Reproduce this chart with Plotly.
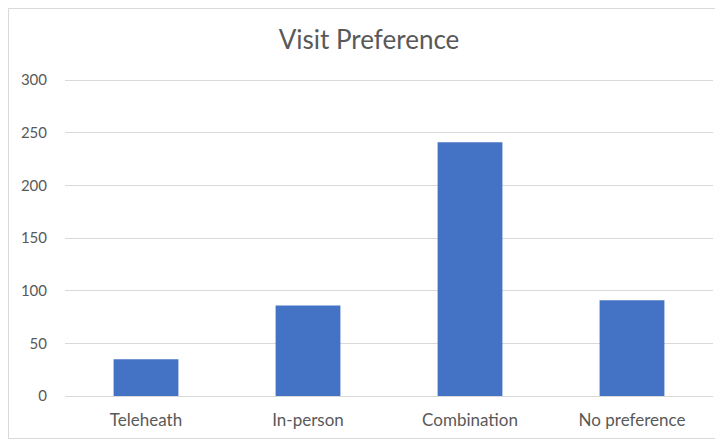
import plotly.graph_objects as go

categories = ["Teleheath", "In-person", "Combination", "No preference"]
values = [35, 86, 241, 91]
y_ticks = [0, 50, 100, 150, 200, 250, 300]

FONT = "Lato, 'Open Sans', sans-serif"
GRAY = "#595959"

W, H = 715, 432
L, R, T, B = 57, 10, 71, 44
PW, PH = W - L - R, H - T - B

fig = go.Figure()
fig.add_trace(go.Bar(
    x=categories,
    y=values,
    marker=dict(color="#4472C4", line=dict(width=0)),
    width=0.4,
    hoverinfo="x+y",
))

fig.update_layout(
    width=W,
    height=H,
    margin=dict(l=L, r=R, t=T, b=B, pad=0),
    paper_bgcolor="white",
    plot_bgcolor="white",
    showlegend=False,
    title=dict(
        text="Visit Preference",
        x=361 / W,
        xanchor="center",
        y=1 - 32 / H,
        yanchor="middle",
        font=dict(family=FONT, size=26, color=GRAY),
    ),
    xaxis=dict(
        showgrid=False,
        showline=False,
        ticks="",
        tickfont=dict(family=FONT, size=17, color=GRAY),
        ticklabelstandoff=12,
    ),
    yaxis=dict(
        range=[0, 301],
        tickvals=y_ticks,
        showgrid=True,
        gridcolor="#d9d9d9",
        gridwidth=1,
        zeroline=True,
        zerolinecolor="#d9d9d9",
        zerolinewidth=1,
        showline=False,
        ticks="",
        tickfont=dict(family=FONT, size=15, color=GRAY),
        ticklabelstandoff=17,
    ),
    shapes=[dict(
        type="rect",
        xref="paper", yref="paper",
        x0=(0.5 - L) / PW, x1=(W - 0.5 - L) / PW,
        y0=-(B - 1.5) / PH, y1=1 + (T - 0.5) / PH,
        line=dict(color="#d9d9d9", width=1),
        fillcolor="rgba(0,0,0,0)",
        layer="below",
    )],
)

fig.write_html("out.html")
